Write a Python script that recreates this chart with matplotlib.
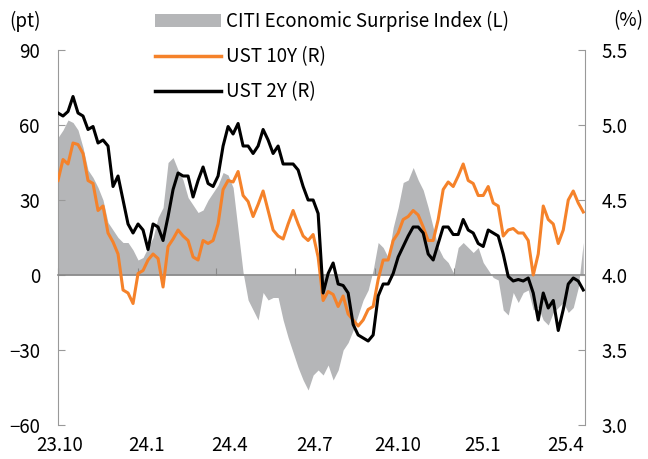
import numpy as np
import pandas as pd
import matplotlib
matplotlib.use('Agg')
import matplotlib.pyplot as plt
from matplotlib.patches import Patch
from matplotlib.lines import Line2D

plt.rcParams['font.family'] = ['Noto Sans CJK KR', 'DejaVu Sans']

# data, sampled evenly from 2023-10-01 to end of May 2025
dates = pd.date_range('2023-10-01', '2025-05-30', periods=106)

# CITI Economic Surprise Index (pt, left axis)
citi = [55, 58, 62, 61, 58, 51, 42, 39, 35, 30, 21, 18, 15, 13, 13, 10, 6, 7, 11, 15,
        23, 27, 45, 47, 42, 38, 31, 28, 25, 26, 30, 33, 36, 41, 40, 35, 18, 1, -10, -14,
        -18, -7, -10, -9, -9, -18, -25, -31, -37, -42, -46, -40, -38,
        -40, -36, -42, -38, -30, -27, -22, -16, -10, -6, 2, 13, 11, 7, 19, 27, 37, 38, 43, 38,
        34, 27, 19, 11, 7, 5, 1, 11, 13, 11, 9, 11, 5, 2, -1, -2, -14, -16, -7, -11,
        -7, -6, -14, -13, -18, -20, -15, -13, -11, -15, -13, -5, 13]

# UST 10Y (%, right axis)
ust10 = [4.63, 4.77, 4.74, 4.88, 4.87, 4.81, 4.63, 4.61, 4.43, 4.46, 4.28, 4.22, 4.14, 3.90,
         3.88, 3.81, 4.01, 4.03, 4.10, 4.14, 4.11, 3.92, 4.19, 4.24, 4.30, 4.26, 4.23, 4.12,
         4.10, 4.23, 4.21, 4.23, 4.34, 4.57, 4.63, 4.62, 4.69, 4.53, 4.49, 4.39, 4.47, 4.56,
         4.43, 4.30, 4.26, 4.24, 4.34, 4.43, 4.34, 4.26, 4.23, 4.27, 4.12,
         3.83, 3.89, 3.87, 3.79, 3.86, 3.74, 3.70, 3.66, 3.70, 3.77, 3.79, 3.97, 4.10, 4.10,
         4.23, 4.28, 4.37, 4.39, 4.43, 4.40, 4.32, 4.23, 4.23, 4.37, 4.57, 4.62, 4.59, 4.66,
         4.74, 4.63, 4.61, 4.53, 4.53, 4.59, 4.48, 4.46, 4.26, 4.30, 4.31, 4.28, 4.28, 4.23,
         4.00, 4.14, 4.46, 4.37, 4.34, 4.21, 4.30, 4.50, 4.56, 4.48, 4.42]

# UST 2Y (%, right axis)
ust2 = [5.08, 5.06, 5.09, 5.19, 5.08, 5.06, 4.97, 4.99, 4.88, 4.90, 4.86, 4.59, 4.66, 4.50,
        4.34, 4.28, 4.34, 4.30, 4.17, 4.34, 4.32, 4.23, 4.39, 4.57, 4.68, 4.66, 4.66, 4.52,
        4.63, 4.72, 4.61, 4.59, 4.66, 4.86, 4.99, 4.94, 5.01, 4.86, 4.86, 4.81, 4.86, 4.97,
        4.90, 4.81, 4.86, 4.74, 4.74, 4.74, 4.70, 4.59, 4.50, 4.50, 4.41,
        3.88, 4.01, 4.08, 3.94, 3.93, 3.88, 3.67, 3.60, 3.58, 3.56, 3.60, 3.86, 3.94, 3.94,
        4.01, 4.12, 4.19, 4.26, 4.32, 4.32, 4.28, 4.14, 4.10, 4.21, 4.32, 4.32, 4.27, 4.27,
        4.37, 4.30, 4.28, 4.21, 4.19, 4.30, 4.28, 4.26, 4.14, 3.99, 3.96, 3.97, 3.96, 3.98,
        3.88, 3.70, 3.88, 3.78, 3.83, 3.63, 3.77, 3.94, 3.98, 3.96, 3.90]

qtr_ticks = pd.to_datetime(['2023-10-01', '2024-01-01', '2024-04-01', '2024-07-01',
                            '2024-10-01', '2025-01-01', '2025-04-01'])
label_pos = pd.to_datetime(['2023-10-03', '2024-01-11', '2024-04-16', '2024-07-23',
                            '2024-10-28', '2025-02-03', '2025-05-10'])
x_labels = ['23.10', '24.1', '24.4', '24.7', '24.10', '25.1', '25.4']
left_ticks = [-60, -30, 0, 30, 60, 90]
right_ticks = [3.0, 3.5, 4.0, 4.5, 5.0, 5.5]

gray = '#b5b6b8'
orange = '#f5822a'
spine_c = '#999999'
fs = 13.5

fig = plt.figure(figsize=(6.48, 4.59), dpi=100)
ax = fig.add_axes([58 / 648, 34 / 459, 527 / 648, 375 / 459])
ax2 = ax.twinx()

ax.fill_between(dates, 0, citi, color=gray, lw=0)
ax2.plot(dates, ust10, color=orange, lw=2.2)
ax2.plot(dates, ust2, color='black', lw=2.2)

ax.set_xlim(pd.Timestamp('2023-10-01'), pd.Timestamp('2025-06-01'))
ax.set_ylim(-60, 90)
ax2.set_ylim(3.0, 5.5)

# zero line carries the quarter ticks
ax.spines['bottom'].set_position(('data', 0))
ax.spines['bottom'].set_color('#888888')
ax.spines['bottom'].set_linewidth(1.2)
ax.spines['top'].set_visible(False)
ax.spines['right'].set_visible(False)
ax.spines['left'].set_color(spine_c)
ax.set_xticks(qtr_ticks)
ax.tick_params(axis='x', direction='in', length=5, color='#888888', labelbottom=False)

ax.set_yticks(left_ticks)
ax.set_yticklabels(['\u221260', '\u221230', '0', '30', '60', '90'])
ax.tick_params(axis='y', direction='in', length=5, color=spine_c, labelsize=fs, pad=13)

for s in ['top', 'bottom', 'left']:
    ax2.spines[s].set_visible(False)
ax2.spines['right'].set_color(spine_c)
ax2.set_yticks(right_ticks)
ax2.set_yticklabels(['%.1f' % v for v in right_ticks])
ax2.tick_params(axis='y', direction='in', length=5, color=spine_c, labelsize=fs, pad=12)

sec = ax.secondary_xaxis('bottom')
sec.set_xticks(label_pos)
sec.set_xticklabels(x_labels)
sec.tick_params(length=0, labelsize=fs, pad=7)
sec.spines['bottom'].set_visible(False)

fig.text(25 / 648, 1 - 21 / 459, '(pt)', fontsize=fs, ha='center', va='center')
fig.text(628 / 648, 1 - 21 / 459, '(%)', fontsize=fs, ha='center', va='center')

handles = [Patch(facecolor=gray, edgecolor='none'),
           Line2D([], [], color=orange, lw=2.5),
           Line2D([], [], color='black', lw=2.5)]
names = ['CITI Economic Surprise Index (L)', 'UST 10Y (R)', 'UST 2Y (R)']
ax2.legend(handles, names, loc='upper left', bbox_to_anchor=(155 / 648, 1 - 11 / 459),
           bbox_transform=fig.transFigure, frameon=False, fontsize=fs,
           handlelength=3.5, handleheight=0.7, handletextpad=0.3, labelspacing=0.75,
           borderpad=0, borderaxespad=0)

fig.savefig('out.png', dpi=100)
